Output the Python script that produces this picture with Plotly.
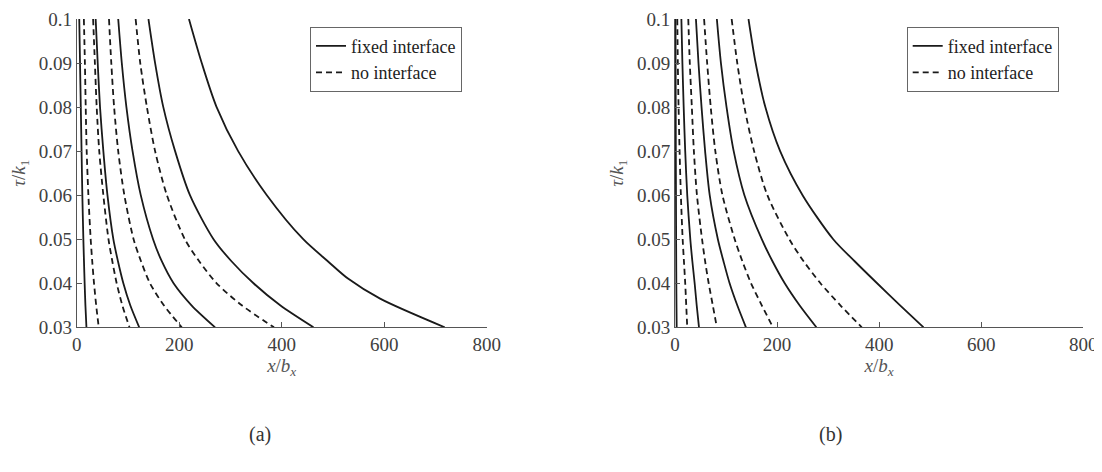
import plotly.graph_objects as go

# ---------------- data ----------------
tau = [0.1, 0.09, 0.08, 0.07, 0.06, 0.05, 0.045, 0.04, 0.035, 0.03]

# panel (a): fixed interface (solid)
a_fixed_1 = [5, 6.5, 8, 9.5, 11, 13, 14.2, 15.5, 17, 19]
a_fixed_2 = [37, 41, 45.5, 52, 60, 71.5, 80.5, 91, 104.5, 122]
a_fixed_3 = [81, 88, 97, 109, 125, 149, 166, 189, 224, 270]
a_fixed_4 = [140, 153, 169, 192, 221, 267, 302, 345, 397, 462]
a_fixed_5_tau = [0.1, 0.09, 0.08, 0.07, 0.06, 0.05, 0.045, 0.041, 0.0365, 0.03]
a_fixed_5 = [219, 244, 273, 315, 371, 442, 490, 530, 592, 718]
# panel (a): no interface (dashed)
a_none_1 = [14, 16, 17.6, 19.5, 22.8, 27.3, 30.3, 33.8, 38, 43]
a_none_2 = [32, 35.5, 39, 44, 52, 62, 69.5, 78, 89, 103]
a_none_3 = [63, 67.5, 73, 81, 93, 111, 125.5, 143, 170, 205]
a_none_4 = [115, 124, 137, 153, 176, 211, 239, 273, 322, 385]

# panel (b): fixed interface (solid)
b_fixed_1 = [1, 1.2, 1.4, 1.6, 1.9, 2.2, 2.4, 2.6, 2.9, 3.3]
b_fixed_2 = [12.5, 14.5, 17, 20, 24, 30, 34, 38.5, 42.5, 47]
b_fixed_3 = [41, 46, 52, 59, 68, 84, 95, 107, 122, 139]
b_fixed_4 = [82, 90, 101, 115, 136, 170, 191, 215, 244, 277]
b_fixed_5 = [144, 158, 177, 206, 250, 310, 352, 396, 441, 487]
# panel (b): no interface (dashed)
b_none_1 = [4.5, 5.5, 7, 9, 11.5, 15, 17.5, 20, 22, 24]
b_none_2 = [26, 29, 33, 37, 43, 53, 59, 66, 74, 82]
b_none_3 = [57, 63, 70, 79, 93, 117, 132, 149, 170, 192]
b_none_4 = [111, 122, 136, 155, 181, 224, 252, 285, 324, 366]

x_ticks = [0, 200, 400, 600, 800]
y_ticks = [0.03, 0.04, 0.05, 0.06, 0.07, 0.08, 0.09, 0.1]
y_tick_text = ["0.03", "0.04", "0.05", "0.06", "0.07", "0.08", "0.09", "0.1"]
legend_names = ["fixed interface", "no interface"]
panel_labels = ["(a)", "(b)"]

# ---------------- figure ----------------
FONT = "Liberation Serif"
LINE_C = "#1a1a1a"
AX_C = "#555555"
TXT_C = "#404040"

fig = go.Figure()

def add_curve(xv, yv, dashed, xa, ya, legend, show):
    fig.add_trace(go.Scatter(
        x=xv, y=yv, mode="lines",
        line=dict(color=LINE_C, width=1.8, dash="6px,4px" if dashed else "solid",
                  shape="spline", smoothing=0.8),
        name=legend_names[1] if dashed else legend_names[0],
        legendgroup=("n" if dashed else "f") + legend,
        showlegend=show, xaxis=xa, yaxis=ya, legend=legend,
        hoverinfo="skip",
    ))

# panel (a)
add_curve(a_fixed_1, tau, False, "x", "y", "legend", True)
add_curve(a_fixed_2, tau, False, "x", "y", "legend", False)
add_curve(a_fixed_3, tau, False, "x", "y", "legend", False)
add_curve(a_fixed_4, tau, False, "x", "y", "legend", False)
add_curve(a_fixed_5, a_fixed_5_tau, False, "x", "y", "legend", False)
add_curve(a_none_1, tau, True, "x", "y", "legend", True)
add_curve(a_none_2, tau, True, "x", "y", "legend", False)
add_curve(a_none_3, tau, True, "x", "y", "legend", False)
add_curve(a_none_4, tau, True, "x", "y", "legend", False)

# panel (b)
add_curve(b_fixed_1, tau, False, "x2", "y2", "legend2", True)
add_curve(b_fixed_2, tau, False, "x2", "y2", "legend2", False)
add_curve(b_fixed_3, tau, False, "x2", "y2", "legend2", False)
add_curve(b_fixed_4, tau, False, "x2", "y2", "legend2", False)
add_curve(b_fixed_5, tau, False, "x2", "y2", "legend2", False)
add_curve(b_none_1, tau, True, "x2", "y2", "legend2", True)
add_curve(b_none_2, tau, True, "x2", "y2", "legend2", False)
add_curve(b_none_3, tau, True, "x2", "y2", "legend2", False)
add_curve(b_none_4, tau, True, "x2", "y2", "legend2", False)

# the page body has an 8px margin: work in page pixels, shifted by OFF
OFF = 8
W, H = 1102 - OFF, 472 - OFF

def px(p):
    return (p - OFF) / W

def py(p):
    return 1 - (p - OFF) / H

y_dom = [py(327.3), py(19)]

xaxis_common = dict(
    range=[0, 800], tickvals=x_ticks, ticks="inside", ticklen=5, tickcolor=AX_C,
    showline=True, linecolor=AX_C, linewidth=1, showgrid=False, zeroline=False,
    tickfont=dict(family=FONT, size=19, color=TXT_C), automargin=False,
    ticklabeloverflow="allow",
    title=dict(text="<i>x</i>/<i>b</i><sub><i>x</i></sub>",
               font=dict(family=FONT, size=19, color="#555555"), standoff=4),
)
yaxis_common = dict(
    range=[0.03, 0.1], tickvals=y_ticks, ticktext=y_tick_text, ticks="inside",
    ticklen=5, tickcolor=AX_C, showline=True, linecolor=AX_C, linewidth=1,
    showgrid=False, zeroline=False, domain=y_dom, automargin=False,
    ticklabeloverflow="allow",
    tickfont=dict(family=FONT, size=19, color=TXT_C),
    title=dict(text="<i>τ</i>/<i>k</i><sub>1</sub>",
               font=dict(family=FONT, size=19, color="#555555"), standoff=8),
)

xa1 = dict(xaxis_common); xa1.update(domain=[px(76.7), px(486.7)], anchor="y")
xa2 = dict(xaxis_common); xa2.update(domain=[px(675), px(1083.3)], anchor="y2")
ya1 = dict(yaxis_common); ya1.update(anchor="x")
ya2 = dict(yaxis_common); ya2.update(anchor="x2")

legend_common = dict(
    bgcolor="white", bordercolor="#666666", borderwidth=1,
    font=dict(family=FONT, size=18, color="#222222"),
    xanchor="left", yanchor="top", tracegroupgap=0, itemwidth=30,
)
lg1 = dict(legend_common); lg1.update(x=px(310), y=py(26.7))
lg2 = dict(legend_common); lg2.update(x=px(906.7), y=py(26.7))

fig.update_layout(
    width=W, height=H, margin=dict(l=0, r=0, t=0, b=0, autoexpand=False),
    paper_bgcolor="white", plot_bgcolor="white",
    xaxis=xa1, yaxis=ya1, xaxis2=xa2, yaxis2=ya2,
    legend=lg1, legend2=lg2,
    annotations=[
        dict(text=panel_labels[0], x=px(247), y=py(448),
             xref="paper", yref="paper", showarrow=False,
             font=dict(family=FONT, size=20, color="#333333")),
        dict(text=panel_labels[1], x=px(844), y=py(448),
             xref="paper", yref="paper", showarrow=False,
             font=dict(family=FONT, size=20, color="#333333")),
    ],
)

fig.write_html("out.html")
